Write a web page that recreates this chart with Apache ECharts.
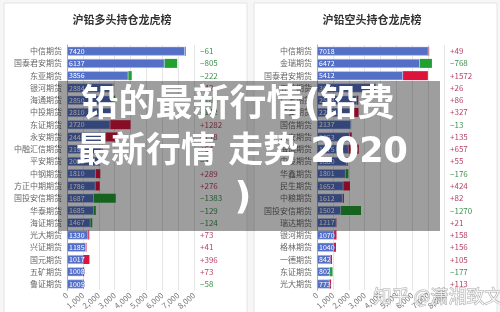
<html>
<head>
<meta charset="utf-8">
<script src="https://cdn.jsdelivr.net/npm/echarts@6/dist/echarts.min.js"></script>
<style>
    html, body { margin: 0; padding: 0; background: #f6f6f6; }
    #main { width: 500px; height: 312px; }
</style>
</head>
<body>
<div id="main"></div>
<script>
    // 多头 (long)
    var longNames = ['中信期货', '国泰君安期货', '东亚期货', '银河期货', '海通期货', '中投期货', '东证期货', '永安期货',
        '中融汇信期货', '平安期货', '中钢期货', '方正中期期货', '国投安信期货', '华泰期货', '海证期货', '光大期货',
        '兴证期货', '国元期货', '五矿期货', '鲁证期货'];
    var longValues = [7420, 6137, 3856, 2884, 2850, 2810, 2720, 2448, 2180, 2035, 1810, 1786, 1687, 1685, 1467, 1330,
        1185, 1017, 1008, 1005];
    var longChanges = [-61, -805, -222, 42, -186, -142, 1282, 718, 64, -35, 289, 276, -1383, -129, -124, 73, 41, 396, 73, -58];

    // 空头 (short)
    var shortNames = ['中信期货', '金瑞期货', '国泰君安期货', '五矿期货', '广发期货', '华泰期货', '国信期货', '永安期货',
        '海通期货', '中投期货', '华鑫期货', '民生期货', '中粮期货', '国投安信期货', '瑞达期货', '银河期货',
        '格林期货', '一德期货', '东证期货', '光大期货'];
    var shortValues = [7018, 6472, 5412, 3685, 2513, 2290, 2137, 2053, 1975, 1880, 1801, 1652, 1612, 1502, 1217, 1070,
        1040, 842, 802, 773];
    var shortChanges = [49, -768, 1572, 26, 86, 327, -13, 135, 657, 55, -176, 424, 82, -1270, 21, 158, 156, 105, -177, 113];

    var axisTicks = [0, 1000, 2000, 3000, 4000, 5000, 6000, 7000, 8000];

    var BLUE = '#5470c6', RED = '#dc143c', GREEN = '#22a032';
    var FONT = '"Noto Sans CJK SC", "Noto Sans", sans-serif';
    var BIG_FACE = ' "DejaVu Sans", "Noto Sans CJK SC", sans-serif';

    function fmtChange(v) {
        return v >= 0 ? '+' + v : '\u2212' + Math.abs(v);
    }

    var chart = echarts.init(document.getElementById('main'));

    var grids = [], xAxes = [], yAxes = [], series = [];

    [[longNames, longValues, longChanges, 67], [shortNames, shortValues, shortChanges, 317]].forEach(function (p, i) {
        var names = p[0], values = p[1], changes = p[2];
        grids.push({left: p[3], top: 45, width: 127, height: 249});
        xAxes.push({
            gridIndex: i, type: 'value', min: axisTicks[0], max: axisTicks[axisTicks.length - 1], interval: 1000,
            axisLine: {show: false}, axisTick: {show: false},
            splitLine: {lineStyle: {color: '#e6e6e6'}},
            axisLabel: {
                rotate: 40, fontSize: 8, color: '#777', margin: 4, fontFamily: FONT,
                formatter: function (v) { return v.toLocaleString('en-US'); }
            }
        });
        yAxes.push({
            gridIndex: i, type: 'category', inverse: true, data: names,
            axisLine: {lineStyle: {color: '#aaa'}}, axisTick: {length: 3, lineStyle: {color: '#aaa'}},
            axisLabel: {interval: 0, fontSize: 8, color: '#666', margin: 5, fontFamily: FONT}
        });
        yAxes.push({
            gridIndex: i, type: 'category', inverse: true, position: 'right',
            data: changes.map(fmtChange),
            axisLine: {show: false}, axisTick: {show: false},
            axisLabel: {
                interval: 0, margin: 6, align: 'left', fontFamily: FONT,
                formatter: function (v) {
                    return v.charAt(0) === '+' ? '{p|' + v + '}' : '{n|' + v + '}';
                },
                rich: {
                    p: {color: '#b84466', fontSize: 8, fontFamily: FONT},
                    n: {color: '#3f8f4f', fontSize: 8, fontFamily: FONT}
                }
            }
        });
        series.push({
            type: 'bar', xAxisIndex: i, yAxisIndex: i * 2, stack: 's' + i, barWidth: 9, z: 4,
            data: values,
            itemStyle: {color: BLUE, borderColor: '#c8d0f0', borderWidth: 0.5},
            label: {show: true, position: [2, '50%'], verticalAlign: 'middle', color: '#fff', fontSize: 7,
                textBorderColor: BLUE, textBorderWidth: 1, fontFamily: FONT}
        });
        series.push({
            type: 'bar', xAxisIndex: i, yAxisIndex: i * 2, stack: 's' + i, barWidth: 9, z: 2,
            data: changes.map(function (c) {
                return {value: Math.abs(c), itemStyle: {color: c >= 0 ? RED : GREEN}};
            })
        });
    });

    var option = {
        animation: false,
        backgroundColor: '#f6f6f6',
        grid: grids,
        xAxis: xAxes,
        yAxis: yAxes,
        series: series,
        graphic: [
            {type: 'rect', z: -10, shape: {x: 4, y: 3, width: 243, height: 320},
                style: {fill: '#fff', stroke: '#e4e4e4', lineWidth: 1}},
            {type: 'rect', z: -10, shape: {x: 254, y: 3, width: 243, height: 320},
                style: {fill: '#fff', stroke: '#e4e4e4', lineWidth: 1}},
            {type: 'text', x: 122, y: 20, style: {text: '沪铅多头持仓龙虎榜', fill: '#333', font: 'bold 11px ' + FONT,
                align: 'center', verticalAlign: 'middle'}},
            {type: 'text', x: 372, y: 20, style: {text: '沪铅空头持仓龙虎榜', fill: '#333', font: 'bold 11px ' + FONT,
                align: 'center', verticalAlign: 'middle'}},
            {type: 'rect', z: 100, shape: {x: 58, y: 81, width: 382, height: 150},
                style: {fill: 'rgba(0,0,0,0.38)'}},
            {type: 'text', z: 101, x: 238, y: 106, style: {text: '铅的最新行情(铅费', fill: '#fff',
                font: 'bold 37px' + BIG_FACE, align: 'center', verticalAlign: 'middle'}},
            {type: 'text', z: 101, x: 242, y: 153, style: {text: '最新行情 走势 2020', fill: '#fff',
                font: 'bold 35px' + BIG_FACE, align: 'center', verticalAlign: 'middle'}},
            {type: 'text', z: 101, x: 243, y: 199, style: {text: ')', fill: '#fff',
                font: 'bold 37px' + BIG_FACE, align: 'center', verticalAlign: 'middle'}},
            {type: 'text', z: 101, x: 438, y: 296, style: {text: '知乎 @潇湘致文', fill: 'rgba(255,255,255,0.75)',
                stroke: 'rgba(120,120,120,0.6)', lineWidth: 1, font: '18px ' + FONT,
                align: 'center', verticalAlign: 'middle'}}
        ]
    };

    chart.setOption(option);
</script>
</body>
</html>
